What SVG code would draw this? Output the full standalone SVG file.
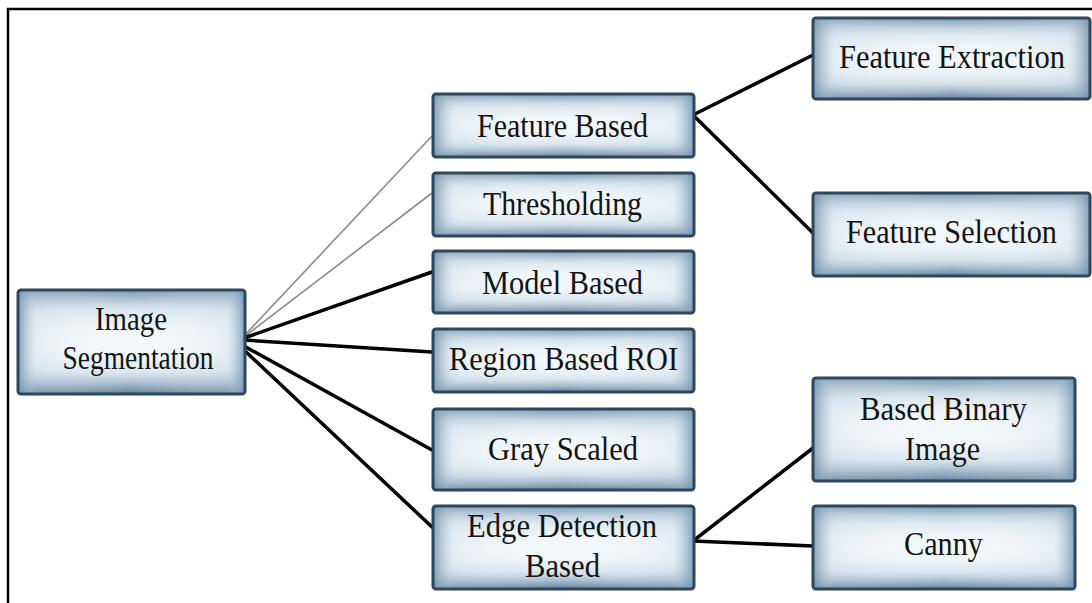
<svg xmlns="http://www.w3.org/2000/svg" width="1092" height="603" viewBox="0 0 1092 603">
<defs>
<linearGradient id="gv" x1="0" y1="0" x2="0" y2="1">
<stop offset="0" stop-color="#6f90ab" stop-opacity="0.95"/>
<stop offset="0.2" stop-color="#bccfdd" stop-opacity="0.4"/>
<stop offset="0.5" stop-color="#ffffff" stop-opacity="0"/>
<stop offset="0.78" stop-color="#bccfdd" stop-opacity="0.4"/>
<stop offset="1" stop-color="#5d7f9b" stop-opacity="1"/>
</linearGradient>
<linearGradient id="gh" x1="0" y1="0" x2="1" y2="0">
<stop offset="0" stop-color="#7495b0" stop-opacity="0.9"/>
<stop offset="0.08" stop-color="#c4d5e2" stop-opacity="0.25"/>
<stop offset="0.5" stop-color="#ffffff" stop-opacity="0"/>
<stop offset="0.92" stop-color="#c4d5e2" stop-opacity="0.25"/>
<stop offset="1" stop-color="#7495b0" stop-opacity="0.9"/>
</linearGradient>
</defs>
<style>
.base{fill:#f2f7fb;}
.v{fill:url(#gv);}
.h{fill:url(#gh);}
.bd{fill:none;stroke:#2c475e;stroke-width:3;}
.t{font-family:"Liberation Serif","Times New Roman",serif;font-size:33px;fill:#141414;text-anchor:middle;}
.thin{stroke:#8a8a8a;stroke-width:1.6;fill:none;}
.thick{stroke:#000;stroke-width:3.5;fill:none;stroke-linecap:round;}
.frame{stroke:#000;stroke-width:2.5;fill:none;}
</style>
<path class="frame" d="M8,603 V9 H1092"/>
<g id="connectors">
<line class="thin" x1="244" y1="336" x2="432" y2="136"/>
<line class="thin" x1="244" y1="337" x2="432" y2="193"/>
<line class="thick" x1="244" y1="338" x2="432" y2="272"/>
<line class="thick" x1="244" y1="340" x2="432" y2="352"/>
<line class="thick" x1="244" y1="346" x2="432" y2="450"/>
<line class="thick" x1="244" y1="350" x2="432" y2="527"/>
<line class="thick" x1="693" y1="115" x2="813" y2="55"/>
<line class="thick" x1="693" y1="115" x2="813" y2="233"/>
<line class="thick" x1="693" y1="541" x2="813" y2="448"/>
<line class="thick" x1="693" y1="541" x2="813" y2="546"/>
</g>
<g id="n-image-seg">
<rect class="base" x="18" y="290" width="227" height="104" rx="3"/>
<rect class="v" x="18" y="290" width="227" height="104" rx="3"/>
<rect class="h" x="18" y="290" width="227" height="104" rx="3"/>
<rect class="bd" x="18" y="290" width="227" height="104" rx="3"/>
<text class="t" x="131" y="330" textLength="72" lengthAdjust="spacingAndGlyphs">Image</text>
<text class="t" x="138" y="369" textLength="151" lengthAdjust="spacingAndGlyphs">Segmentation</text>
</g>
<g id="n-feature-based">
<rect class="base" x="433" y="94" width="261" height="63" rx="3"/>
<rect class="v" x="433" y="94" width="261" height="63" rx="3"/>
<rect class="h" x="433" y="94" width="261" height="63" rx="3"/>
<rect class="bd" x="433" y="94" width="261" height="63" rx="3"/>
<text class="t" x="562.5" y="137" textLength="171" lengthAdjust="spacingAndGlyphs">Feature Based</text>
</g>
<g id="n-thresholding">
<rect class="base" x="433" y="173" width="261" height="63" rx="3"/>
<rect class="v" x="433" y="173" width="261" height="63" rx="3"/>
<rect class="h" x="433" y="173" width="261" height="63" rx="3"/>
<rect class="bd" x="433" y="173" width="261" height="63" rx="3"/>
<text class="t" x="562.5" y="215" textLength="159" lengthAdjust="spacingAndGlyphs">Thresholding</text>
</g>
<g id="n-model-based">
<rect class="base" x="433" y="251" width="261" height="62" rx="3"/>
<rect class="v" x="433" y="251" width="261" height="62" rx="3"/>
<rect class="h" x="433" y="251" width="261" height="62" rx="3"/>
<rect class="bd" x="433" y="251" width="261" height="62" rx="3"/>
<text class="t" x="562.5" y="294" textLength="161" lengthAdjust="spacingAndGlyphs">Model Based</text>
</g>
<g id="n-region-based">
<rect class="base" x="433" y="329" width="261" height="63" rx="3"/>
<rect class="v" x="433" y="329" width="261" height="63" rx="3"/>
<rect class="h" x="433" y="329" width="261" height="63" rx="3"/>
<rect class="bd" x="433" y="329" width="261" height="63" rx="3"/>
<text class="t" x="563.5" y="370" textLength="229" lengthAdjust="spacingAndGlyphs">Region Based ROI</text>
</g>
<g id="n-gray-scaled">
<rect class="base" x="433" y="409" width="261" height="81" rx="3"/>
<rect class="v" x="433" y="409" width="261" height="81" rx="3"/>
<rect class="h" x="433" y="409" width="261" height="81" rx="3"/>
<rect class="bd" x="433" y="409" width="261" height="81" rx="3"/>
<text class="t" x="563" y="460" textLength="150" lengthAdjust="spacingAndGlyphs">Gray Scaled</text>
</g>
<g id="n-edge-detection">
<rect class="base" x="433" y="506" width="261" height="83" rx="3"/>
<rect class="v" x="433" y="506" width="261" height="83" rx="3"/>
<rect class="h" x="433" y="506" width="261" height="83" rx="3"/>
<rect class="bd" x="433" y="506" width="261" height="83" rx="3"/>
<text class="t" x="562" y="537" textLength="190" lengthAdjust="spacingAndGlyphs">Edge Detection</text>
<text class="t" x="562.5" y="577" textLength="75" lengthAdjust="spacingAndGlyphs">Based</text>
</g>
<g id="n-feature-extraction">
<rect class="base" x="813" y="18" width="277" height="81" rx="3"/>
<rect class="v" x="813" y="18" width="277" height="81" rx="3"/>
<rect class="h" x="813" y="18" width="277" height="81" rx="3"/>
<rect class="bd" x="813" y="18" width="277" height="81" rx="3"/>
<text class="t" x="952" y="68" textLength="226" lengthAdjust="spacingAndGlyphs">Feature Extraction</text>
</g>
<g id="n-feature-selection">
<rect class="base" x="813" y="193" width="277" height="83" rx="3"/>
<rect class="v" x="813" y="193" width="277" height="83" rx="3"/>
<rect class="h" x="813" y="193" width="277" height="83" rx="3"/>
<rect class="bd" x="813" y="193" width="277" height="83" rx="3"/>
<text class="t" x="951.5" y="243" textLength="211" lengthAdjust="spacingAndGlyphs">Feature Selection</text>
</g>
<g id="n-binary-image">
<rect class="base" x="813" y="378" width="262" height="103" rx="3"/>
<rect class="v" x="813" y="378" width="262" height="103" rx="3"/>
<rect class="h" x="813" y="378" width="262" height="103" rx="3"/>
<rect class="bd" x="813" y="378" width="262" height="103" rx="3"/>
<text class="t" x="943.5" y="420" textLength="167" lengthAdjust="spacingAndGlyphs">Based Binary</text>
<text class="t" x="942.5" y="460" textLength="75" lengthAdjust="spacingAndGlyphs">Image</text>
</g>
<g id="n-canny">
<rect class="base" x="813" y="506" width="262" height="83" rx="3"/>
<rect class="v" x="813" y="506" width="262" height="83" rx="3"/>
<rect class="h" x="813" y="506" width="262" height="83" rx="3"/>
<rect class="bd" x="813" y="506" width="262" height="83" rx="3"/>
<text class="t" x="943.5" y="555" textLength="79" lengthAdjust="spacingAndGlyphs">Canny</text>
</g>
</svg>
